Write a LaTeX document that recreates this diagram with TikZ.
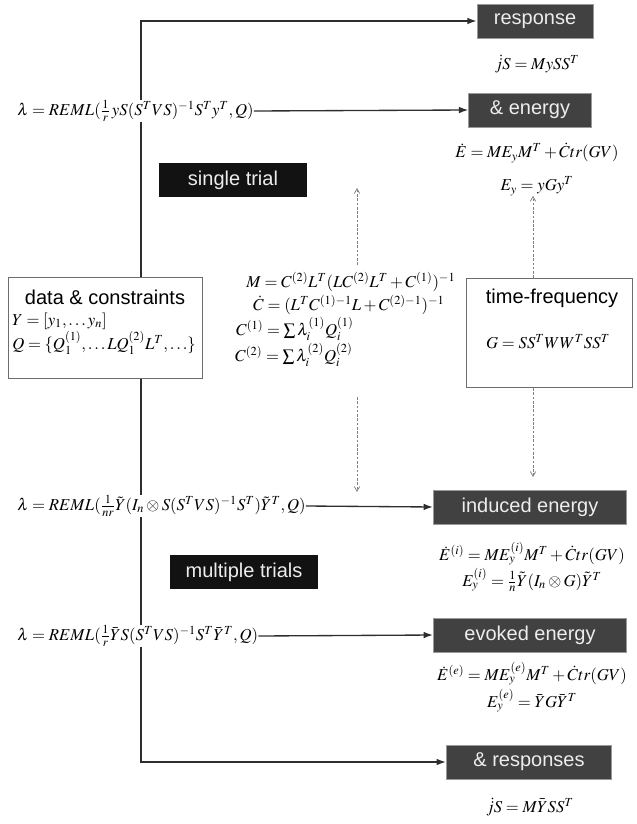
\documentclass[tikz,border=0pt]{standalone}
\usepackage{amsmath}
\usepackage{mathptmx}
\usepackage{fontspec}
\setsansfont{Liberation Sans}
\usetikzlibrary{arrows.meta}
\definecolor{boxgray}{HTML}{414141}
\definecolor{boxblack}{HTML}{121212}
\definecolor{boxtext}{HTML}{EDEDED}
\definecolor{linecol}{HTML}{2E2E2E}
\begin{document}
\begin{tikzpicture}[x=0.75pt,y=-0.75pt,
  lbl/.style={font=\sffamily\fontsize{15}{18}\selectfont},
  dark/.style={lbl, fill=boxgray, draw=gray!80, line width=0.6pt, text=boxtext, inner sep=0pt},
  blackbox/.style={lbl, fill=boxblack, draw=none, text=boxtext, inner sep=0pt},
  frame/.style={draw=gray!85!black, fill=white, line width=0.8pt, inner sep=0pt},
  eq/.style={font=\fontsize{12.5}{14}\selectfont, inner sep=0pt},
  link/.style={draw=linecol, line width=1pt},
  arr/.style={link, -{Latex[length=7pt,width=5pt]}},
  darr/.style={draw=gray, line width=0.6pt, dash pattern=on 2pt off 1.2pt, -{Straight Barb[length=3.5pt,width=4pt]}}
]
\useasboundingbox (0,0) rectangle (636,824);

% ---------- right column boxes ----------
\node[dark, minimum width=87pt, minimum height=25.5pt] (resp) at (535,21) {response};
\node[eq] (js1) at (537,64) {$\dot{j}S = MySS^T$};
\node[dark, minimum width=92pt, minimum height=25.5pt] (energy) at (530,110) {\& energy};
\node[eq] (edot1) at (537,153) {$\dot{E} = ME_yM^T + \dot{C}tr(GV)$};
\node[eq] (ey1) at (537,186) {$E_y = yGy^T$};

\node[dark, minimum width=145pt, minimum height=25.5pt] (induced) at (530,507) {induced energy};
\node[eq] (edot2) at (532,554) {$\dot{E}^{(i)} = ME_y^{(i)}M^T + \dot{C}tr(GV)$};
\node[eq] (ey2) at (532,580) {$E_y^{(i)} = \frac{1}{n}\tilde{Y}(I_n\otimes G)\tilde{Y}^T$};

\node[dark, minimum width=145pt, minimum height=25.5pt] (evoked) at (530,635) {evoked energy};
\node[eq] (edot3) at (532,674) {$\dot{E}^{(e)} = ME_y^{(e)}M^T + \dot{C}tr(GV)$};
\node[eq] (ey3) at (532,701) {$E_y^{(e)} = \bar{Y}G\bar{Y}^T$};

\node[dark, minimum width=124pt, minimum height=25.5pt] (resps) at (529,762) {\& responses};
\node[eq] (js2) at (530,807) {$\dot{j}S = M\bar{Y}SS^T$};

% ---------- trial labels ----------
\node[blackbox, minimum width=111pt, minimum height=26pt] (single) at (233,180) {single trial};
\node[blackbox, minimum width=111pt, minimum height=26pt] (multi) at (244,572) {multiple trials};

% ---------- left formulas ----------
\node[eq, anchor=west] (lam1) at (17,111) {$\lambda = REML(\tfrac{1}{r}\,yS(S^TVS)^{-1}S^Ty^T, Q)$};
\node[eq, anchor=west] (lam2) at (17,506) {$\lambda = REML(\tfrac{1}{nr}\tilde{Y}(I_n\otimes S(S^TVS)^{-1}S^T)\tilde{Y}^T, Q)$};
\node[eq, anchor=west] (lam3) at (17,636) {$\lambda = REML(\tfrac{1}{r}\bar{Y}S(S^TVS)^{-1}S^T\bar{Y}^T, Q)$};

% ---------- data & constraints ----------
\node[frame, minimum width=145.5pt, minimum height=75.75pt, anchor=north west] (data) at (8,277) {};
\node[lbl] (datat) at (105,297) {data \& constraints};
\node[eq, anchor=west] (daty) at (12,321) {$Y = [y_1,\ldots y_n]$};
\node[eq, anchor=west] (datq) at (12,343) {$Q = \{Q_1^{(1)},\ldots LQ_1^{(2)}L^T,\ldots\}$};

% ---------- time-frequency ----------
\node[frame, minimum width=124.5pt, minimum height=81.75pt, anchor=north west] (tf) at (466,278) {};
\node[lbl] (tft) at (552,298) {time-frequency};
\node[eq] (tfg) at (548,342) {$G = SS^TWW^TSS^T$};

% ---------- middle formulas ----------
\node[eq, anchor=west] (mM) at (246,282) {$M = C^{(2)}L^T(LC^{(2)}L^T + C^{(1)})^{-1}$};
\node[eq, anchor=west] (mC) at (253,305) {$\dot{C} = (L^TC^{(1)-1}L + C^{(2)-1})^{-1}$};
\node[eq, anchor=west] (mC1) at (236,329) {$C^{(1)} = \sum\lambda_i^{(1)}Q_i^{(1)}$};
\node[eq, anchor=west] (mC2) at (235,355) {$C^{(2)} = \sum\lambda_i^{(2)}Q_i^{(2)}$};

% ---------- connectors ----------
\coordinate (ctop) at (141,21);
\coordinate (cbot) at (141,762);
\draw[arr] (lam1.north -| ctop) -- (ctop) -- (resp.west);
\draw[arr] (lam1.east) -- (energy.west);
\draw[link] (lam1.south -| ctop) -- (data.north -| ctop);
\draw[link] (data.south -| ctop) -- (lam2.north -| ctop);
\draw[arr] (lam2.east) -- (induced.west);
\draw[link] (lam2.south -| ctop) -- (lam3.north -| ctop);
\draw[arr] (lam3.east) -- (evoked.west);
\draw[arr] (lam3.south -| ctop) -- (cbot) -- (resps.west);

% dashed
\coordinate (mtop) at (357,265);
\coordinate (mtopend) at (357,188);
\coordinate (mbot) at (357,397);
\coordinate (mbotend) at (357,492);
\draw[darr] (mtop) -- (mtopend);
\draw[darr] (mbot) -- (mbotend);
\coordinate (tfx) at (533,0);
\draw[darr] (tf.north -| tfx) -- (ey1.south -| tfx);
\coordinate (tfend) at (533,477);
\draw[darr] (tf.south -| tfx) -- (tfend);
\end{tikzpicture}
\end{document}
